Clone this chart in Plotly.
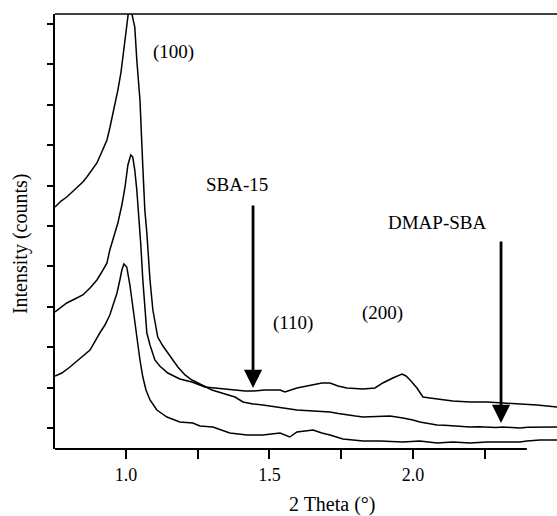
import plotly.graph_objects as go

# ---- data (2 Theta in degrees, intensity in arbitrary counts) ----
dmap_x = [0.753, 0.774, 0.794, 0.812, 0.833, 0.850, 0.864, 0.882, 0.899, 0.916, 0.934, 0.944,
          0.958, 0.972, 0.983, 0.990, 1.000, 1.007, 1.014, 1.021, 1.031, 1.038, 1.049, 1.059,
          1.066, 1.073, 1.084, 1.094, 1.105, 1.111, 1.129, 1.146, 1.164, 1.181, 1.206, 1.230,
          1.265, 1.300, 1.334, 1.380, 1.408, 1.443, 1.477, 1.507, 1.537, 1.566, 1.596, 1.624,
          1.652, 1.683, 1.711, 1.740, 1.770, 1.800, 1.826, 1.855, 1.885, 1.920, 1.965, 2.000,
          2.024, 2.055, 2.084, 2.110, 2.139, 2.170, 2.199, 2.230, 2.258, 2.290, 2.314, 2.345,
          2.373, 2.400, 2.432, 2.465, 2.502]
dmap_y = [5990, 6138, 6237, 6361, 6485, 6608, 6732, 6905, 7079, 7351, 7648, 7945,
          8390, 8885, 9331, 9702, 10247, 10692, 11100, 10766, 10445, 9628, 8638, 6980,
          5915, 5346, 4183, 3440, 2945, 2772, 2549, 2376, 2203, 2030, 1832, 1708,
          1584, 1460, 1386, 1287, 1163, 1114, 1089, 1060, 1015, 990, 965, 955,
          941, 930, 916, 880, 842, 815, 792, 800, 792, 817, 767, 720,
          668, 630, 594, 585, 569, 560, 545, 550, 545, 530, 545, 535,
          520, 540, 545, 535, 545]

sba_x = [0.753, 0.774, 0.794, 0.822, 0.850, 0.875, 0.899, 0.916, 0.934, 0.944, 0.972, 0.986,
         0.997, 1.007, 1.017, 1.024, 1.031, 1.038, 1.045, 1.052, 1.059, 1.066, 1.073, 1.084,
         1.101, 1.118, 1.146, 1.188, 1.230, 1.275, 1.310, 1.362, 1.415, 1.443, 1.484, 1.537,
         1.554, 1.596, 1.652, 1.683, 1.711, 1.739, 1.770, 1.826, 1.868, 1.895, 1.930, 1.962,
         1.976, 1.990, 2.014, 2.035, 2.059, 2.084, 2.139, 2.199, 2.258, 2.314, 2.373, 2.432,
         2.502]
sba_y = [3391, 3515, 3614, 3713, 3812, 3985, 4183, 4381, 4604, 4925, 5594, 6039,
         6485, 7029, 7277, 7227, 6905, 6410, 5792, 5049, 4183, 3440, 2871, 2574,
         2203, 2054, 1881, 1733, 1658, 1535, 1510, 1485, 1436, 1436, 1460, 1460,
         1411, 1510, 1584, 1634, 1634, 1559, 1510, 1485, 1510, 1634, 1757, 1856,
         1807, 1708, 1510, 1287, 1262, 1238, 1188, 1163, 1163, 1139, 1114, 1089,
         1040]

bot_x = [0.753, 0.777, 0.805, 0.840, 0.875, 0.909, 0.927, 0.944, 0.969, 0.979, 0.986, 0.993,
         1.003, 1.014, 1.021, 1.031, 1.038, 1.049, 1.059, 1.070, 1.084, 1.108, 1.143, 1.188,
         1.233, 1.258, 1.303, 1.362, 1.422, 1.477, 1.537, 1.571, 1.596, 1.624, 1.652, 1.683,
         1.711, 1.756, 1.826, 1.885, 1.965, 2.024, 2.084, 2.139, 2.199, 2.258, 2.314, 2.373,
         2.397, 2.443, 2.502]
bot_y = [1807, 1881, 2030, 2252, 2450, 2871, 3069, 3317, 3861, 4183, 4430, 4579,
         4505, 4059, 3688, 3193, 2698, 2203, 1782, 1460, 1213, 965, 792, 668,
         644, 569, 545, 396, 347, 347, 396, 297, 421, 446, 470, 396,
         347, 248, 198, 198, 173, 198, 149, 173, 149, 173, 173, 173,
         198, 223, 223]

x_tick_vals = [1.0, 1.5, 2.0]
x_tick_text = ["1.0", "1.5", "2.0"]

SERIF = "Liberation Serif, Times New Roman, serif"

fig = go.Figure()
for xs, ys, name in [(dmap_x, dmap_y, "DMAP-SBA"), (sba_x, sba_y, "SBA-15"), (bot_x, bot_y, "sample")]:
    fig.add_trace(go.Scatter(x=xs, y=ys, mode="lines", name=name,
                             line=dict(color="black", width=1.5), showlegend=False))

X0, X1 = 0.753, 2.502
Y0, Y1 = 0, 10767

fig.update_layout(
    width=557, height=516,
    margin=dict(l=55, r=0, t=14, b=67),
    paper_bgcolor="white", plot_bgcolor="white",
    font=dict(family=SERIF, color="black", size=18),
    xaxis=dict(range=[X0, X1], showgrid=False, zeroline=False, showline=False,
               tickmode="array", tickvals=x_tick_vals, ticktext=x_tick_text,
               ticks="outside", ticklen=9, tickwidth=1.5, tickcolor="black",
               tickfont=dict(family=SERIF, size=18, color="black"),
               minor=dict(tick0=0.25, dtick=0.5, ticks="outside", ticklen=9,
                          tickwidth=1.5, tickcolor="black", showgrid=False)),
    yaxis=dict(range=[Y0, Y1], showgrid=False, zeroline=False, showline=True,
               linecolor="black", linewidth=2, showticklabels=False,
               tickmode="linear", tick0=520, dtick=1000,
               ticks="outside", ticklen=6, tickwidth=1.5, tickcolor="black"),
)

# frame lines: bottom axis line (ends short of the right edge) and top border
fig.add_shape(type="line", xref="x", yref="paper", x0=X0, x1=2.397, y0=0, y1=0,
              line=dict(color="black", width=2))
fig.add_shape(type="line", xref="paper", yref="paper", x0=0, x1=1, y0=1, y1=1,
              line=dict(color="black", width=1.5))

# peak labels
for txt, tx, ty in [("(100)", 1.167, 9826), ("(110)", 1.582, 3119), ("(200)", 1.895, 3366),
                    ("SBA-15", 1.387, 6559), ("DMAP-SBA", 2.084, 5618)]:
    fig.add_annotation(x=tx, y=ty, xref="x", yref="y", text=txt, showarrow=False,
                       font=dict(family=SERIF, size=19, color="black"))

# arrows
for tipx, tipy, taily in [(1.443, 1510, 6064), (2.307, 643, 5173)]:
    fig.add_annotation(x=tipx, y=tipy, ax=tipx, ay=taily, xref="x", yref="y",
                       axref="x", ayref="y", text="", showarrow=True,
                       arrowhead=2, arrowsize=1.3, arrowwidth=2.8, arrowcolor="black")

# axis titles
fig.add_annotation(x=0.552, y=0, xref="paper", yref="paper", yshift=-55,
                   text="2 Theta (°)", showarrow=False, yanchor="middle",
                   font=dict(family=SERIF, size=20, color="black"))
fig.add_annotation(x=0, y=0.471, xref="paper", yref="paper", xshift=-35,
                   text="Intensity (counts)", showarrow=False, textangle=-90,
                   xanchor="center", yanchor="middle",
                   font=dict(family=SERIF, size=20, color="black"))

fig.write_html("out.html", config={"displayModeBar": False},
               post_script="document.body.style.margin='0';document.body.style.overflow='hidden';")
